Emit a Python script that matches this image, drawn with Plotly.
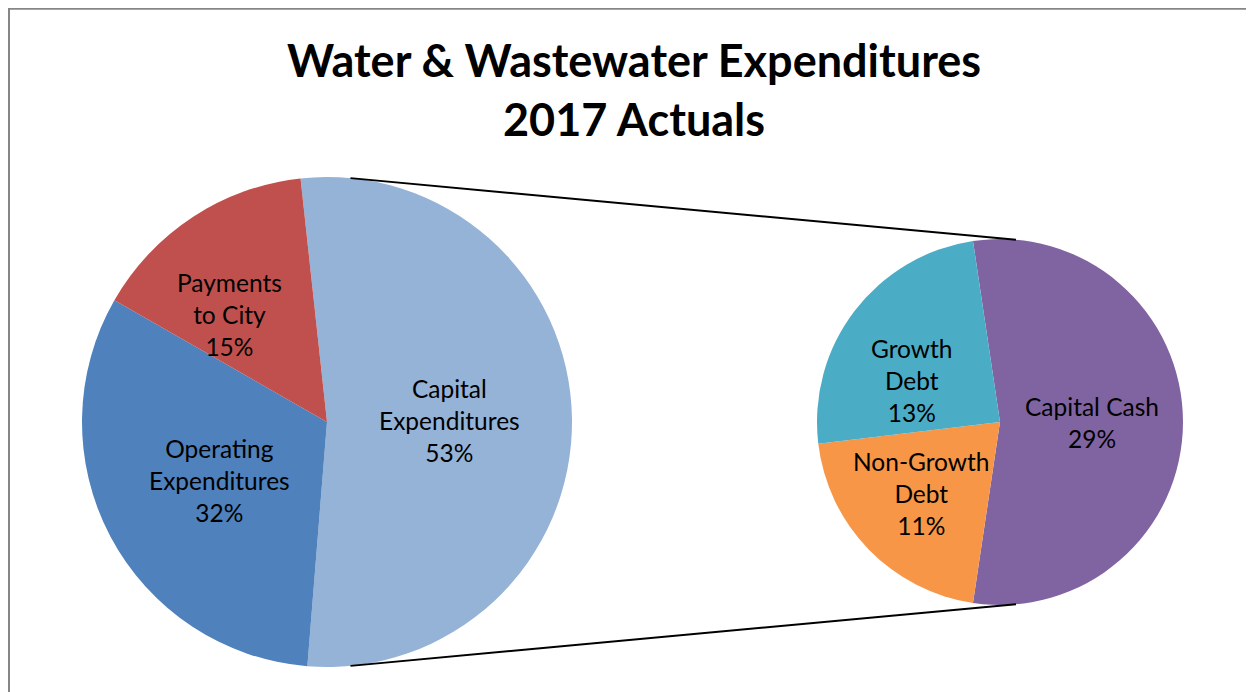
import math
import plotly.graph_objects as go

# ---------------- data ----------------
main_labels = ["Capital Expenditures", "Operating Expenditures", "Payments to City"]
main_text = ["Capital<br>Expenditures", "Operating<br>Expenditures", "Payments<br>to City"]
main_values = [53, 32, 15]

sub_labels = ["Capital Cash", "Non-Growth Debt", "Growth Debt"]
sub_text = ["Capital Cash", "Non-Growth<br>Debt", "Growth<br>Debt"]
sub_values = [29, 11, 13]

title_lines = ["Water & Wastewater Expenditures", "2017 Actuals"]

# ---------------- style ----------------
W, H = 1254, 692
OFF = 8  # page body margin offset
FONT = "Lato"
main_colors = ["#95B3D7", "#4F81BD", "#C0504D"]
sub_colors = ["#8064A2", "#F79646", "#4BACC6"]

main_c, main_r = (327 - OFF, 422 - OFF), 245
sub_c, sub_r = (1000 - OFF, 422 - OFF), 183

# label placement (radius fraction, angle offset in degrees)
main_lab_r = [0.50, 0.50, 0.59]
main_lab_da = [0, -0.5, -9]
sub_lab_r = [0.50, 0.58, 0.53]
sub_lab_da = [0, 1.5, -12]

# connector line angles (deg clockwise from 12 o'clock)
conn_main = [5.5, 174.5]
conn_sub = [5.0, 175.0]


def domain(c, r):
    cx, cy = c
    return dict(x=[(cx - r) / W, (cx + r) / W],
                y=[(H - (cy + r)) / H, (H - (cy - r)) / H])


def pt(c, r, ang):
    a = math.radians(ang)
    return c[0] + r * math.sin(a), c[1] - r * math.cos(a)


def to_paper(p):
    return p[0] / W, (H - p[1]) / H


main_tot = sum(main_values)
sub_tot = sum(sub_values)
main_rot = 90 - 360 * main_values[0] / main_tot / 2 - 0.8
sub_rot = 90 - 360 * sub_values[0] / sub_tot / 2

fig = go.Figure()
fig.add_trace(go.Pie(
    labels=main_labels, values=main_values, sort=False, direction="clockwise",
    rotation=main_rot, domain=domain(main_c, main_r),
    marker=dict(colors=main_colors, line=dict(width=0)),
    textinfo="none", hoverinfo="label+percent", showlegend=False,
))
fig.add_trace(go.Pie(
    labels=sub_labels, values=sub_values, sort=False, direction="clockwise",
    rotation=sub_rot, domain=domain(sub_c, sub_r),
    marker=dict(colors=sub_colors, line=dict(width=0)),
    textinfo="none", hoverinfo="label+value", showlegend=False,
))

annotations = []


def add_labels(c, r, rot, values, texts, pct_total, rfs, das):
    tot = sum(values)
    start = rot
    for v, t, rf, da in zip(values, texts, rfs, das):
        span = 360 * v / tot
        mid = start + span / 2 + da
        x, y = to_paper(pt(c, r * rf, mid))
        pct = round(100 * v / pct_total)
        annotations.append(dict(
            x=x, y=y, xref="paper", yref="paper", showarrow=False,
            text=f"{t}<br>{pct}%", xanchor="center", yanchor="middle",
            font=dict(family=FONT, size=24.5, color="#000000"),
        ))
        start += span


add_labels(main_c, main_r, main_rot, main_values, main_text, main_tot, main_lab_r, main_lab_da)
add_labels(sub_c, sub_r, sub_rot, sub_values, sub_text, main_tot, sub_lab_r, sub_lab_da)

annotations.append(dict(
    x=(634 - OFF) / W, y=(H - (89 - OFF)) / H, xref="paper", yref="paper", showarrow=False,
    text="<b>" + "<br>".join(title_lines) + "</b>", xanchor="center", yanchor="middle",
    font=dict(family=FONT, size=45, color="#000000"),
))

shapes = []
for am, asub in zip(conn_main, conn_sub):
    x0, y0 = to_paper(pt(main_c, main_r, am))
    x1, y1 = to_paper(pt(sub_c, sub_r, asub))
    shapes.append(dict(type="line", xref="paper", yref="paper", x0=x0, y0=y0, x1=x1, y1=y1,
                       line=dict(color="#000000", width=2)))
shapes.append(dict(type="rect", xref="paper", yref="paper",
                   x0=1 / W, x1=1.02, y0=-0.02, y1=(H - 0.75) / H,
                   line=dict(color="#868686", width=2), fillcolor="rgba(0,0,0,0)"))

fig.update_layout(
    width=W, height=H, margin=dict(l=0, r=0, t=0, b=0),
    paper_bgcolor="#FFFFFF", plot_bgcolor="#FFFFFF",
    annotations=annotations, shapes=shapes, showlegend=False,
)

fig.write_html("out.html")
